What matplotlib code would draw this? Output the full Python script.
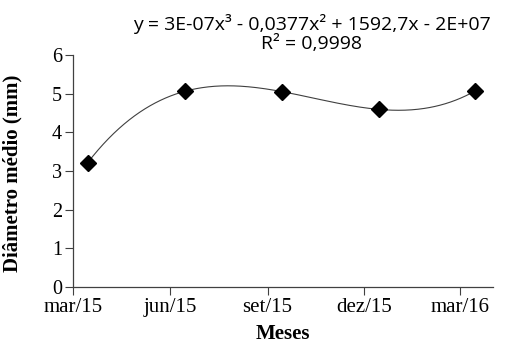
import datetime as dt
import numpy as np
import matplotlib
matplotlib.use("Agg")
import matplotlib.pyplot as plt
import matplotlib.dates as mdates

# data
dates = [dt.date(2015, 3, 15), dt.date(2015, 6, 15), dt.date(2015, 9, 15),
         dt.date(2015, 12, 15), dt.date(2016, 3, 15)]
diametro = [3.22, 5.07, 5.05, 4.60, 5.07]

tick_dates = [dt.date(2015, 3, 1), dt.date(2015, 6, 1), dt.date(2015, 9, 1),
              dt.date(2015, 12, 1), dt.date(2016, 3, 1)]
tick_labels = ["mar/15", "jun/15", "set/15", "dez/15", "mar/16"]

equation = "y = 3E-07x³ - 0,0377x² + 1592,7x - 2E+07"
r2_text = "R² = 0,9998"

serif = ["Liberation Serif", "DejaVu Serif"]
sans = ["Open Sans", "DejaVu Sans"]

fig = plt.figure(figsize=(5.14, 3.47), dpi=100)
ax = fig.add_axes([0.142, 0.173, 0.817, 0.668])

# cubic trendline like the spreadsheet one
x = mdates.date2num(dates)
coef = np.polyfit(x - x[0], diametro, 3)
xs = np.linspace(x[0], x[-1], 300)
ax.plot(xs, np.polyval(coef, xs - x[0]), color="#404040", lw=0.8, zorder=2)
ax.plot(x, diametro, linestyle="none", marker="D", ms=8, color="black", zorder=3)

ax.set_xlim(mdates.date2num(dt.date(2015, 3, 1)), mdates.date2num(dt.date(2016, 4, 1)))
ax.set_ylim(0, 6)
ax.set_xticks(mdates.date2num(tick_dates))
ax.set_xticklabels(tick_labels, family=serif, fontsize=15)
ax.set_yticks(range(7))
ax.set_yticklabels([str(v) for v in range(7)], family=serif, fontsize=14.5)
ax.tick_params(direction="out", length=6, width=0.8, color="#404040", pad=2)

for s in ("top", "right"):
    ax.spines[s].set_visible(False)
for s in ("left", "bottom"):
    ax.spines[s].set_color("#404040")
    ax.spines[s].set_linewidth(0.9)

ax.set_xlabel("Meses", family=serif, fontsize=15, fontweight="bold", va="top")
ax.xaxis.set_label_coords(0.5, -0.16)
ax.set_ylabel("Diâmetro médio (mm)", family=serif, fontsize=15, fontweight="bold")
ax.yaxis.set_label_coords(-0.121, 0.49)

fig.text(0.607, 0.932, equation, family=sans, fontsize=14, ha="center", va="center")
fig.text(0.607, 0.873, r2_text, family=sans, fontsize=14, ha="center", va="center")

fig.savefig("out.png", dpi=100)
